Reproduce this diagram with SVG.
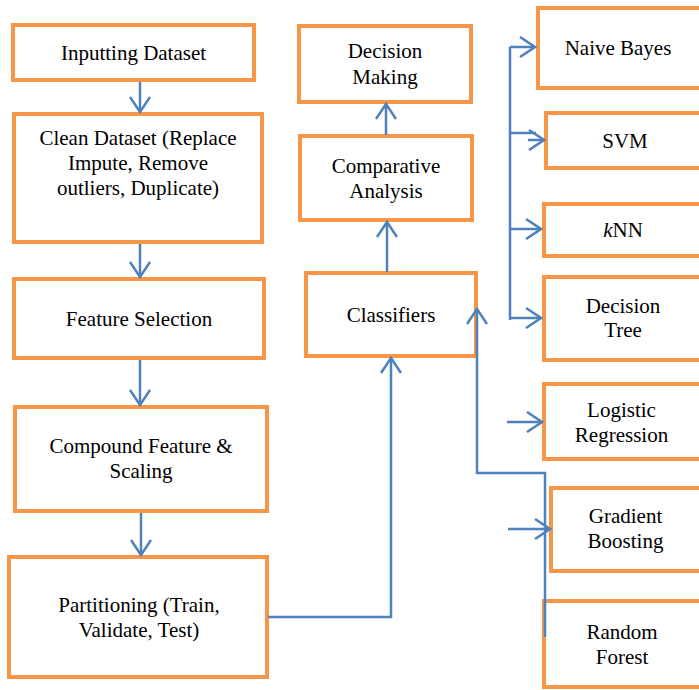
<svg xmlns="http://www.w3.org/2000/svg" width="699" height="690" viewBox="0 0 699 690">
<style>
.box{fill:#fff;stroke:#F79646;stroke-width:4}
.t{font-family:'Liberation Serif','Times New Roman',Times,'DejaVu Serif',serif;font-size:21px;fill:#000;text-anchor:middle}
.c{fill:none;stroke:#4F81BD;stroke-width:2.5}
.a{marker-end:url(#arr)}
</style>
<defs>
<marker id="arr" viewBox="0 0 18 22" refX="16" refY="11" markerWidth="18" markerHeight="22" markerUnits="userSpaceOnUse" orient="auto">
<path d="M1,1 L16,11 L1,21" fill="none" stroke="#4F81BD" stroke-width="2.5"/>
</marker>
</defs>
<rect width="699" height="690" fill="#fff"/>
<g id="inputting"><rect class="box" x="13" y="25" width="241" height="55"/><text class="t" x="133.5" y="60">Inputting Dataset</text></g>
<g id="clean"><rect class="box" x="14" y="114" width="248" height="128"/><text class="t" x="138" y="145">Clean Dataset (Replace</text><text class="t" x="138" y="170">Impute, Remove</text><text class="t" x="138" y="195">outliers, Duplicate)</text></g>
<g id="feature"><rect class="box" x="14" y="279" width="250" height="79"/><text class="t" x="139" y="326">Feature Selection</text></g>
<g id="compound"><rect class="box" x="15" y="407" width="252" height="104"/><text class="t" x="141" y="453">Compound Feature &amp;</text><text class="t" x="141" y="478">Scaling</text></g>
<g id="partitioning"><rect class="box" x="9" y="557" width="258" height="120"/><text class="t" x="139" y="612">Partitioning (Train,</text><text class="t" x="139" y="637">Validate, Test)</text></g>
<g id="decision-making"><rect class="box" x="299" y="26" width="172" height="76"/><text class="t" x="385" y="58">Decision</text><text class="t" x="385" y="84">Making</text></g>
<g id="comparative"><rect class="box" x="300" y="136" width="172" height="84"/><text class="t" x="386" y="173">Comparative</text><text class="t" x="386" y="198">Analysis</text></g>
<g id="classifiers"><rect class="box" x="306" y="273" width="170" height="83"/><text class="t" x="391" y="322">Classifiers</text></g>
<g id="naive-bayes"><rect class="box" x="538" y="8" width="190" height="80"/><text class="t" x="618" y="55">Naive Bayes</text></g>
<g id="svm"><rect class="box" x="546" y="113" width="190" height="55"/><text class="t" x="625" y="148">SVM</text></g>
<g id="knn"><rect class="box" x="544" y="204" width="190" height="52"/><text class="t" x="623" y="237"><tspan font-style="italic">k</tspan>NN</text></g>
<g id="decision-tree"><rect class="box" x="544" y="277" width="190" height="83"/><text class="t" x="623" y="313">Decision</text><text class="t" x="623" y="337">Tree</text></g>
<g id="logistic"><rect class="box" x="544" y="384" width="190" height="75"/><text class="t" x="621.5" y="417">Logistic</text><text class="t" x="621.5" y="442">Regression</text></g>
<g id="gradient"><rect class="box" x="551" y="488" width="190" height="83" stroke-width="4.5"/><text class="t" x="625.5" y="523">Gradient</text><text class="t" x="625.5" y="548">Boosting</text></g>
<g id="random-forest"><rect class="box" x="544" y="601" width="190" height="86"/><text class="t" x="622" y="639">Random</text><text class="t" x="622" y="664">Forest</text></g>
<g id="connectors">
<path class="c a" d="M140,82 V112"/>
<path class="c a" d="M140,244 V277"/>
<path class="c a" d="M140,360 V405"/>
<path class="c a" d="M141,513 V555"/>
<path class="c a" d="M268,617 H391 V358"/>
<path class="c a" d="M387,272 V222"/>
<path class="c a" d="M386,135 V104"/>
<path class="c" d="M510,47 V320"/>
<path class="c a" d="M510,47 H535"/>
<path class="c" d="M510,133 H536"/>
<path class="c a" d="M528,140 H544"/>
<path class="c a" d="M510,229 H541"/>
<path class="c a" d="M510,318 H541"/>
<path class="c a" d="M507,422 H542"/>
<path class="c a" d="M508,529 H550"/>
<path class="c a" d="M545,637 V473 H477 V309"/>
</g>
</svg>
